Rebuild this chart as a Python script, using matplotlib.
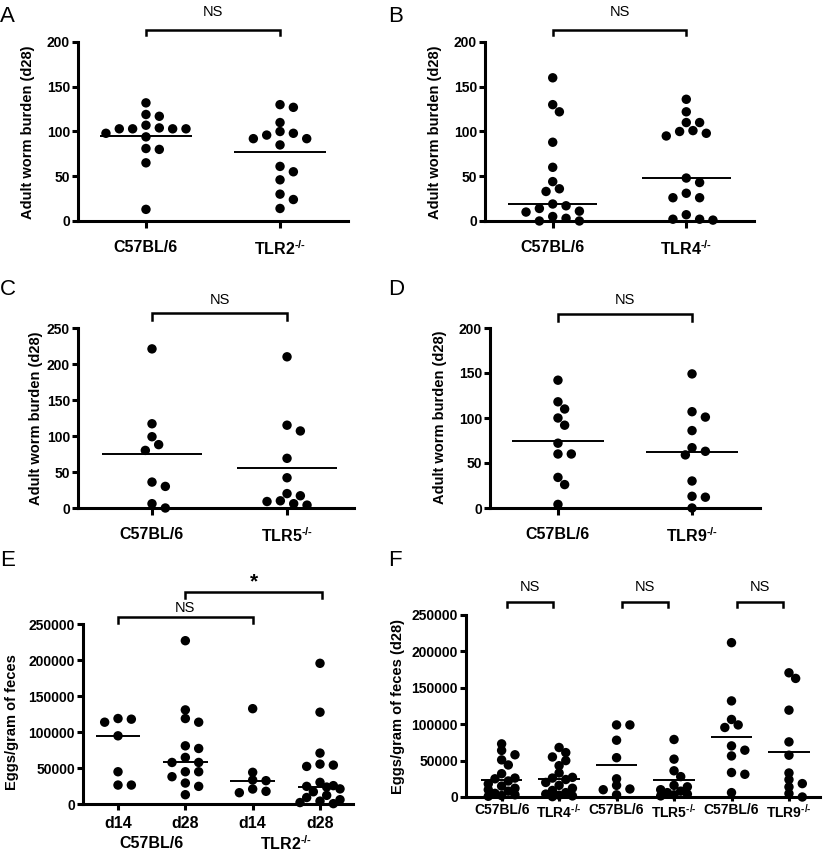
import numpy as np
import matplotlib
matplotlib.use("Agg")
import matplotlib.pyplot as plt
import matplotlib.transforms as mtrans

# ---------------- data ----------------
SUP = r"$^{\text{-/-}}$"
A_groups = ["C57BL/6", "TLR2" + SUP]
A_c57 = [132, 117, 119, 104, 103, 103, 98, 103, 103, 107, 94, 81, 80, 65, 13]
A_tlr2 = [130, 127, 110, 100, 96, 92, 85, 92, 98, 61, 55, 46, 30, 24, 14]
A_lines = [94.5, 77]

B_groups = ["C57BL/6", "TLR4" + SUP]
B_c57 = [160, 130, 122, 88, 60, 44, 33, 36, 19, 17, 14, 10, 11, 3, 0, 0, 5]
B_tlr4 = [136, 122, 110, 110, 101, 98, 95, 100, 48, 43, 31, 26, 26, 7, 2, 1, 2]
B_lines = [19.5, 48]

C_groups = ["C57BL/6", "TLR5" + SUP]
C_c57 = [221, 117, 99, 88, 80, 36, 30, 6, 0]
C_tlr5 = [210, 115, 107, 69, 42, 17, 9, 4, 6, 10, 20]
C_lines = [75.5, 55.5]

D_groups = ["C57BL/6", "TLR9" + SUP]
D_c57 = [142, 118, 110, 100, 92, 72, 60, 60, 34, 26, 4]
D_tlr9 = [149, 107, 101, 86, 67, 59, 63, 30, 13, 12, 0]
D_lines = [74, 62]

E_ticks = ["d14", "d28", "d14", "d28"]
E_groups = ["C57BL/6", "TLR2" + SUP]
E_c57_d14 = [118700, 113600, 117800, 94700, 44800, 26300, 26300]
E_c57_d28 = [226800, 130700, 113600, 118700, 80800, 77100, 64700, 57700, 57700,
             44800, 44800, 37900, 29100, 24500, 12900]
E_tlr2_d14 = [132400, 44000, 33300, 32400, 20800, 15700, 17600]
E_tlr2_d28 = [195400, 127500, 70700, 55400, 54000, 52200, 30100, 25500, 24500,
              23500, 21000, 17000, 12000, 9000, 6000, 4000, 2000, 500]
E_lines = [94700, 57700, 32400, 24000]

F_groups = ["C57BL/6", "TLR4" + SUP, "C57BL/6", "TLR5" + SUP,
            "C57BL/6", "TLR9" + SUP]
F_c57_a = [73000, 64000, 58000, 51000, 44000, 32000, 26000, 25000, 22000, 18000,
           15000, 12000, 10000, 8000, 5000, 3000, 2000, 1000]
F_tlr4 = [68000, 61000, 55000, 50000, 43000, 33000, 27000, 26000, 24000, 20000,
          16000, 12000, 9000, 6000, 4000, 2500, 1500, 500]
F_c57_b = [99000, 99000, 78000, 54000, 25000, 16000, 11000, 10000, 3000]
F_tlr5 = [79000, 52000, 36000, 28000, 16000, 14000, 10000, 8000, 6000, 4000, 3000, 1500]
F_c57_c = [212000, 132000, 99000, 95500, 106500, 70200, 64300, 56400, 33600, 31200, 6000]
F_tlr9 = [170600, 162900, 119300, 75700, 57400, 33000, 23900, 18400, 13800, 4700, 0]
F_lines = [23800, 25000, 44000, 23000, 82600, 61500]

# ---------------- style ----------------
plt.rcParams["font.family"] = ["Liberation Sans", "DejaVu Sans"]
plt.rcParams["mathtext.fontset"] = "custom"
plt.rcParams["mathtext.bf"] = "Liberation Sans:bold"
plt.rcParams["mathtext.rm"] = "Liberation Sans:bold"

W, H = 825, 857
fig = plt.figure(figsize=(W / 100, H / 100), dpi=100)

SPINE_LW = 2.2
TICK_FS = 10
CAT_FS = 11.5
YLAB_FS = 10.5
MS = 46


def make_ax(l, r, t, b, xlim, ylim, yticks):
    ax = fig.add_axes([l / W, 1 - b / H, (r - l) / W, (b - t) / H])
    ax.set_xlim(*xlim)
    ax.set_ylim(*ylim)
    for s in ["top", "right"]:
        ax.spines[s].set_visible(False)
    for s in ["left", "bottom"]:
        ax.spines[s].set_linewidth(SPINE_LW)
    ax.set_yticks(yticks)
    ax.tick_params(axis="y", direction="out", length=4.3, width=SPINE_LW, pad=1.5,
                   labelsize=TICK_FS)
    for lab in ax.get_yticklabels():
        lab.set_fontweight("bold")
    ax.patch.set_alpha(0)
    return ax


def swarm(ax, vals, x0, step_px=6.67, rx=11.5, ry=8.5, max_off=45):
    """Greedy column-scatter layout: each point moves sideways in half-steps
    until it no longer collides (elliptical footprint) with placed points;
    within max_off, falls back to the least-crowded slot."""
    vals = np.asarray(vals, dtype=float)
    bb = ax.get_position()
    xr = ax.get_xlim()
    yr = ax.get_ylim()
    ppx = bb.width * W / (xr[1] - xr[0])
    ppy = bb.height * H / (yr[1] - yr[0])
    order = np.argsort(-vals, kind="stable")
    placed = []
    offs = np.zeros(len(vals))
    nmax = int(max_off // step_px)
    cands = [0] + [s * j for j in range(1, nmax + 1) for s in (1, -1)]
    for i in order:
        y = vals[i] * ppy
        best, best_d = 0.0, -1.0
        for c in cands:
            xo = c * step_px
            d = min([((xo - px) / rx) ** 2 + ((y - py) / ry) ** 2 for px, py in placed],
                    default=9.0)
            if d >= 1:
                best = xo
                break
            if d > best_d + 1e-9:
                best, best_d = xo, d
        placed.append((best, y))
        offs[i] = best / ppx
    ax.scatter(x0 + offs, vals, s=MS, color="black", edgecolors="none",
               zorder=4, clip_on=False)


def mean_line(ax, x0, val, half=0.34):
    ax.plot([x0 - half, x0 + half], [val, val], color="black", lw=1.4, zorder=3,
            solid_capstyle="butt")


def bracket(ax, x1, x2, ybar, yleg, text, ytext, fs=10.5, weight="normal"):
    tr = mtrans.blended_transform_factory(ax.transData, fig.transFigure)
    ax.plot([x1, x1, x2, x2], [1 - yleg / H, 1 - ybar / H, 1 - ybar / H, 1 - yleg / H],
            color="black", lw=1.8, transform=tr, clip_on=False,
            solid_joinstyle="miter")
    ax.text((x1 + x2) / 2, 1 - ytext / H, text, transform=tr, ha="center",
            va="center", fontsize=fs, fontweight=weight)


def xcats(ax, labels, fs, pad, length=5):
    ax.set_xticks(range(len(labels)))
    ax.set_xticklabels(labels, fontsize=fs, fontweight="bold")
    ax.tick_params(axis="x", direction="out", length=length, width=SPINE_LW, pad=pad)


def ylab(text, x, y):
    fig.text(x / W, 1 - y / H, text, rotation=90, ha="center", va="center",
             fontsize=YLAB_FS, fontweight="bold")


def letter(t, x, y):
    fig.text(x / W, 1 - y / H, t, ha="left", va="top", fontsize=16)


# ---------------- panel A ----------------
axA = make_ax(78, 348, 42, 221, (-0.507, 1.507), (0, 200), [0, 50, 100, 150, 200])
xcats(axA, A_groups, CAT_FS, 8.5)
swarm(axA, A_c57, 0)
swarm(axA, A_tlr2, 1)
for i, v in enumerate(A_lines):
    mean_line(axA, i, v)
bracket(axA, 0, 1, 29.5, 34.5, "NS", 12.5)
ylab("Adult worm burden (d28)", 28, 132)
letter("A", 0, 6)

# ---------------- panel B ----------------
axB = make_ax(485, 754, 42, 221, (-0.507, 1.507), (0, 200), [0, 50, 100, 150, 200])
xcats(axB, B_groups, CAT_FS, 8.5)
swarm(axB, B_c57, 0)
swarm(axB, B_tlr4, 1)
for i, v in enumerate(B_lines):
    mean_line(axB, i, v, 0.335)
bracket(axB, 0, 1, 29.5, 34.5, "NS", 12.5)
ylab("Adult worm burden (d28)", 435, 132)
letter("B", 388, 6)

# ---------------- panel C ----------------
axC = make_ax(78, 354, 328, 508, (-0.548, 1.496), (0, 250), [0, 50, 100, 150, 200, 250])
xcats(axC, C_groups, CAT_FS, 8.5)
swarm(axC, C_c57, 0)
swarm(axC, C_tlr5, 1)
for i, v in enumerate(C_lines):
    mean_line(axC, i, v, 0.37)
bracket(axC, 0, 1, 313, 319.5, "NS", 300)
ylab("Adult worm burden (d28)", 36.5, 418)
letter("C", 0, 279)

# ---------------- panel D ----------------
axD = make_ax(490, 760, 328, 508, (-0.507, 1.507), (0, 200), [0, 50, 100, 150, 200])
xcats(axD, D_groups, CAT_FS, 8.5)
swarm(axD, D_c57, 0)
swarm(axD, D_tlr9, 1)
for i, v in enumerate(D_lines):
    mean_line(axD, i, v)
bracket(axD, 0, 1, 314, 320.5, "NS", 300)
ylab("Adult worm burden (d28)", 440, 417)
letter("D", 388, 279)

# ---------------- panel E ----------------
axE = make_ax(83, 353, 624, 804, (-0.52, 3.49), (0, 250000),
              [0, 50000, 100000, 150000, 200000, 250000])
axE.yaxis.set_major_formatter(matplotlib.ticker.FuncFormatter(lambda v, p: f"{int(v)}"))
for lab in axE.get_yticklabels():
    lab.set_fontweight("bold")
xcats(axE, E_ticks, CAT_FS, 4, length=4.5)
for i, vals in enumerate([E_c57_d14, E_c57_d28, E_tlr2_d14, E_tlr2_d28]):
    swarm(axE, vals, i, rx=10, ry=7, max_off=21)
for i, v in enumerate(E_lines):
    mean_line(axE, i, v, 0.33)
bracket(axE, 0, 2, 617, 623, "NS", 608)
bracket(axE, 1, 3.03, 592, 597.5, "*", 582, fs=15, weight="bold")
trE = mtrans.blended_transform_factory(axE.transData, fig.transFigure)
axE.text(0.5, 1 - 844 / H, E_groups[0], transform=trE, ha="center", va="center",
         fontsize=CAT_FS, fontweight="bold")
axE.text(2.5, 1 - 844 / H, E_groups[1], transform=trE, ha="center", va="center",
         fontsize=CAT_FS, fontweight="bold")
ylab("Eggs/gram of feces", 12, 722)
letter("E", 0, 550)

# ---------------- panel F ----------------
axF = make_ax(466, 820, 615, 797, (-0.62, 5.54), (0, 250000),
              [0, 50000, 100000, 150000, 200000, 250000])
axF.yaxis.set_major_formatter(matplotlib.ticker.FuncFormatter(lambda v, p: f"{int(v)}"))
for lab in axF.get_yticklabels():
    lab.set_fontweight("bold")
xcats(axF, F_groups, 10, 1, length=3)
for i, vals in enumerate([F_c57_a, F_tlr4, F_c57_b, F_tlr5, F_c57_c, F_tlr9]):
    swarm(axF, vals, i, rx=10, ry=6.5, max_off=20)
for i, v in enumerate(F_lines):
    mean_line(axF, i, v, 0.36)
for p in (0, 2, 4):
    bracket(axF, p + 0.1, p + 0.9, 601.5, 607, "NS", 587)
ylab("Eggs/gram of feces (d28)", 398, 706)
letter("F", 388, 550)

fig.savefig("out.png", dpi=100)
